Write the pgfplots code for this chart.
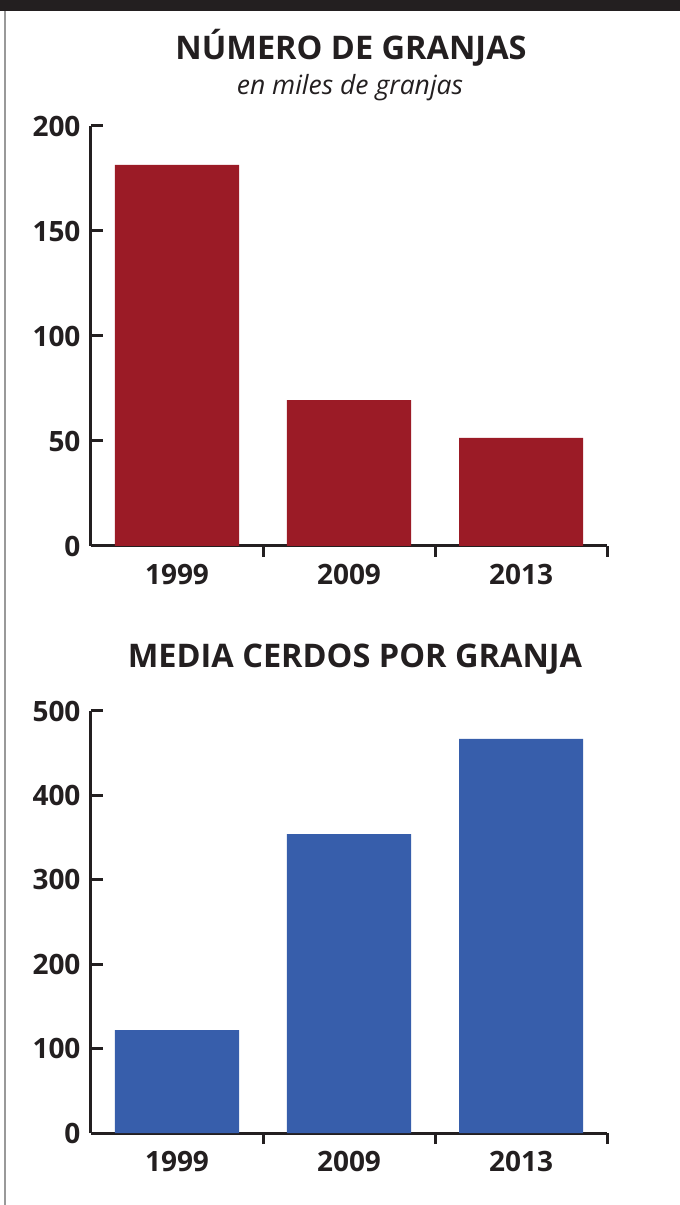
\documentclass[border=0pt]{standalone}
\usepackage{pgfplots}
\pgfplotsset{compat=1.18}
\usepackage{fontspec}
\setmainfont{Open Sans}
\definecolor{dark}{HTML}{231F20}
\definecolor{barred}{HTML}{9B1B26}
\definecolor{barblue}{HTML}{375EAB}
\pgfplotsset{
  mystyle/.style={
    scale only axis,
    width=516pt,
    xmin=0, xmax=3,
    ymin=0,
    axis x line*=bottom,
    axis y line*=left,
    x axis line style={-, line width=3pt, draw=dark},
    y axis line style={-, line width=3pt, draw=dark},
    every outer x axis line/.append style={line width=3pt},
    every outer y axis line/.append style={line width=3pt},
    xtick={0.5,1.5,2.5},
    xticklabels={1999,2009,2013},
    minor xtick={1,2,3},
    major x tick style={draw=none},
    minor x tick style={line width=3pt, draw=dark},
    major y tick style={line width=3pt, draw=dark},
    tick align=inside,
    major tick length=12pt,
    minor tick length=11pt,
    tick label style={font=\fontsize{28}{28}\selectfont\bfseries, color=dark},
    yticklabel style={xshift=-7pt},
    xticklabel style={yshift=-3pt},
    /pgf/number format/assume math mode=true,
    ybar,
    bar width=124pt,
    bar shift=0pt,
    clip=false,
  }
}
\begin{document}
\begin{tikzpicture}[x=1pt,y=1pt]
\useasboundingbox (0,0) rectangle (680,1205);
\fill[dark] (0,1194) rectangle (680,1205);
\draw[gray!80, line width=1.3pt] (5,0) -- (5,1194);
\node[font=\fontsize{32.5}{32.5}\selectfont\bfseries, text=dark] at (351,1157) {NÚMERO DE GRANJAS};
\node[font=\fontsize{26.5}{26.5}\selectfont\itshape, text=dark] at (350,1117) {en miles de granjas};
\node[font=\fontsize{32.5}{32.5}\selectfont\bfseries, text=dark] at (355,546) {MEDIA CERDOS POR GRANJA};
\begin{axis}[mystyle, height=420pt, ymax=200, ytick={0,50,100,150,200},
  at={(91pt,659pt)}, anchor=south west]
\addplot[fill=barred, draw=none] coordinates {(0.5,181.5) (1.5,69.5) (2.5,51.5)};
\end{axis}
\begin{axis}[mystyle, height=422pt, ymax=500, ytick={0,100,200,300,400,500},
  at={(91pt,72pt)}, anchor=south west]
\addplot[fill=barblue, draw=none] coordinates {(0.5,122) (1.5,354) (2.5,467)};
\end{axis}
\end{tikzpicture}
\end{document}
